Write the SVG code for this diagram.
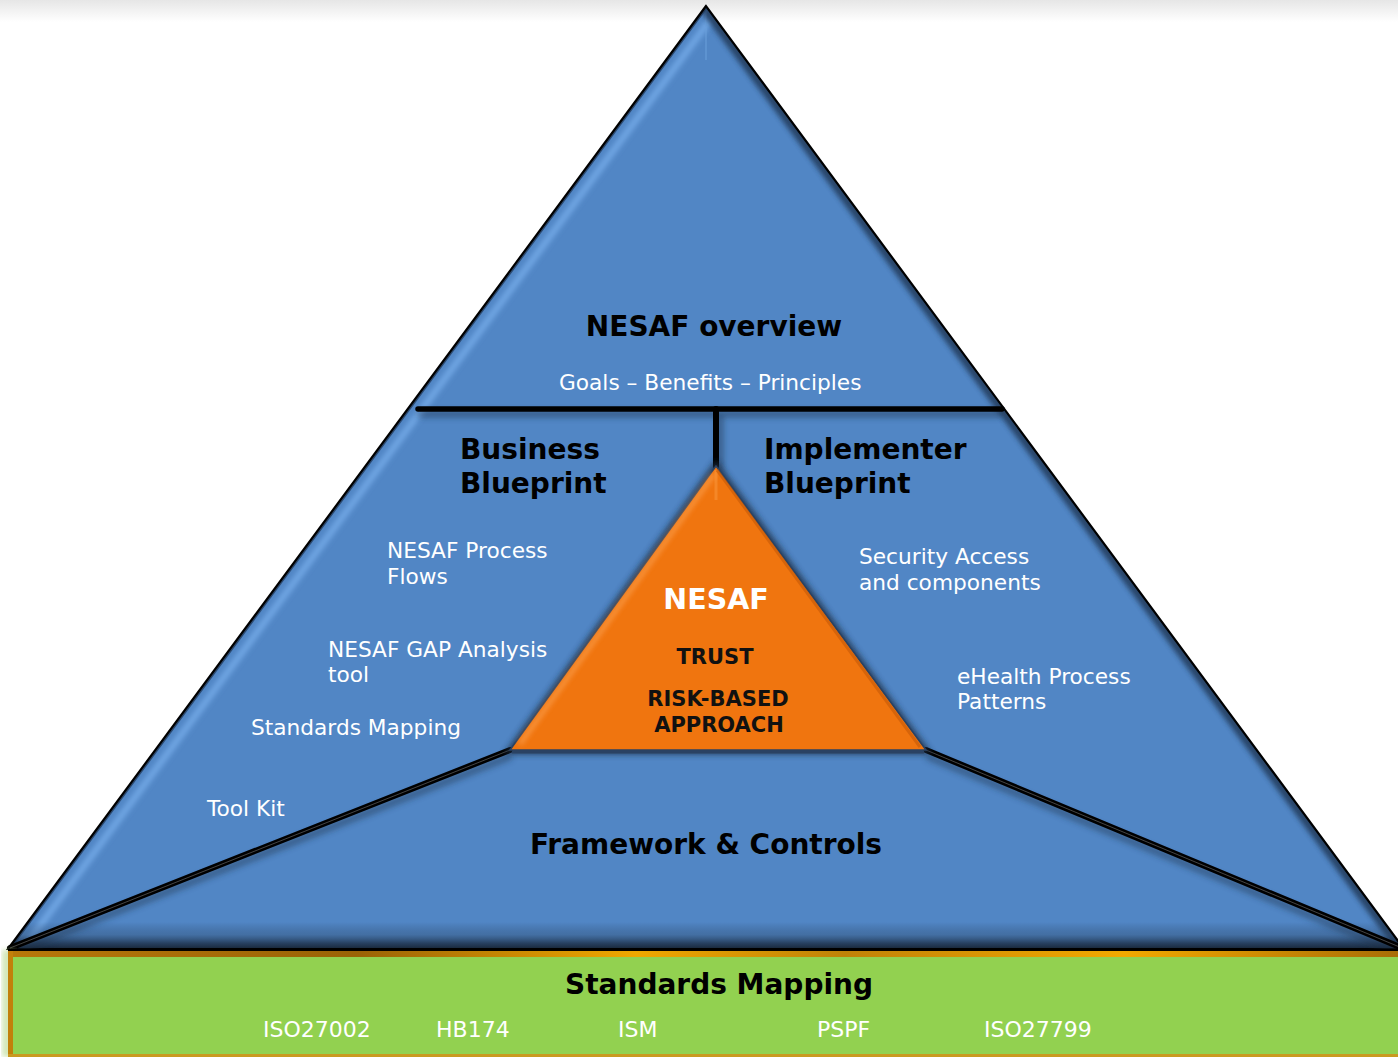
<svg xmlns="http://www.w3.org/2000/svg" width="1398" height="1057" viewBox="0 0 1398 1057">
  <defs>
    <style>
      .t { font-family: "DejaVu Sans", Verdana, sans-serif; }
      .h { font-family: "DejaVu Sans", Verdana, sans-serif; font-weight: bold; font-size: 28px; fill: #000; }
      .w { font-family: "DejaVu Sans", Verdana, sans-serif; font-size: 21.7px; fill: #fff; }
      .o { font-family: "DejaVu Sans", Verdana, sans-serif; font-weight: bold; font-size: 21px; fill: #111; }
      .iso { font-family: "DejaVu Sans", Verdana, sans-serif; font-size: 22px; fill: #fff; }
      .line { stroke: #000; stroke-width: 5.5; fill: none; stroke-linecap: round; }
      .lineIn { stroke: #454545; stroke-width: 1; fill: none; }
    </style>
    <linearGradient id="topfade" x1="0" y1="0" x2="0" y2="1">
      <stop offset="0" stop-color="#e6e6e6"/>
      <stop offset="1" stop-color="#ffffff"/>
    </linearGradient>
    <linearGradient id="bottomBand" x1="0" y1="0" x2="0" y2="1">
      <stop offset="0" stop-color="#1b2c44" stop-opacity="0"/>
      <stop offset="0.45" stop-color="#2a4565" stop-opacity="0.35"/>
      <stop offset="0.75" stop-color="#1d3049" stop-opacity="0.8"/>
      <stop offset="1" stop-color="#14202f" stop-opacity="1"/>
    </linearGradient>
    <linearGradient id="orangeEdge" x1="0" y1="0" x2="1" y2="0">
      <stop offset="0" stop-color="#b8780a"/>
      <stop offset="0.25" stop-color="#9a6206"/>
      <stop offset="0.45" stop-color="#f0a800"/>
      <stop offset="0.6" stop-color="#c08208"/>
      <stop offset="0.8" stop-color="#f2a900"/>
      <stop offset="1" stop-color="#a86c06"/>
    </linearGradient>
    <clipPath id="triClip">
      <polygon points="706,6 8,949 1404,949"/>
    </clipPath>
    <filter id="soft" x="-5%" y="-5%" width="110%" height="110%">
      <feGaussianBlur stdDeviation="2.5"/>
    </filter>
    <filter id="shadow" x="-10%" y="-10%" width="120%" height="120%">
      <feGaussianBlur stdDeviation="3"/>
    </filter>
  </defs>

  <!-- page background -->
  <rect x="0" y="0" width="1398" height="1057" fill="#ffffff"/>
  <rect x="0" y="0" width="1398" height="22" fill="url(#topfade)"/>

  <!-- pyramid body -->
  <g id="pyramid">
    <polygon points="706,6 8,949 1404,949" fill="#5186c5"/>
    <g clip-path="url(#triClip)">
      <line x1="710" y1="20" x2="22" y2="950" stroke="#6ea4e2" stroke-width="7" filter="url(#soft)"/>
      <line x1="706" y1="10" x2="706" y2="60" stroke="#6a9fdc" stroke-width="2" opacity="0.5"/>
      <line x1="706" y1="6" x2="1404" y2="949" stroke="#223a5a" stroke-width="14" filter="url(#soft)" opacity="0.85"/>
      <line x1="706" y1="6" x2="8" y2="949" stroke="#223a5a" stroke-width="5" opacity="0.8"/>
      <rect x="0" y="922" width="1404" height="28" fill="url(#bottomBand)"/>
    </g>
    <polygon points="706,6 8,949 1404,949" fill="none" stroke="#000" stroke-width="2.2" stroke-linejoin="miter"/>
  </g>

  <!-- connectors (divider lines) -->
  <g id="connectors">
    <g filter="url(#shadow)" opacity="0.55">
      <line x1="418" y1="414" x2="1002" y2="414" stroke="#1d3149" stroke-width="6"/>
      <line x1="720" y1="411" x2="720" y2="470" stroke="#1d3149" stroke-width="6"/>
      <line x1="511" y1="756" x2="12" y2="953" stroke="#1d3149" stroke-width="6"/>
      <line x1="927" y1="756" x2="1400" y2="953" stroke="#1d3149" stroke-width="6"/>
    </g>
    <line class="line" x1="418" y1="409" x2="1002" y2="409"/>
    <line class="line" x1="716" y1="409" x2="716" y2="466" style="stroke-width:6"/>
    <line class="line" x1="510" y1="750" x2="10" y2="948" style="stroke-width:6"/>
    <line class="line" x1="926" y1="750" x2="1402" y2="948" style="stroke-width:6"/>
    <line class="lineIn" x1="510" y1="750" x2="10" y2="948"/>
    <line class="lineIn" x1="926" y1="750" x2="1402" y2="948"/>
  </g>

  <!-- central orange triangle -->
  <g id="nesaf-core">
    <polygon points="716,460 504,754 932,754" fill="#1a2d45" opacity="0.85" filter="url(#shadow)"/>
    <polygon points="716,466 510,750 926,750" fill="#f0750f" stroke="#2a4263" stroke-width="1.5"/>
    <line x1="714" y1="474" x2="520" y2="744" stroke="#fba050" stroke-width="4" opacity="0.8" filter="url(#soft)"/>
    <line x1="716" y1="470" x2="716" y2="500" stroke="#fb9a40" stroke-width="3" opacity="0.5"/>
    <line x1="717" y1="470" x2="920" y2="747" stroke="#c65a08" stroke-width="3" opacity="0.6"/>
    <line x1="512" y1="752" x2="924" y2="752" stroke="#2a4263" stroke-width="3"/>
    <text class="t" x="716" y="609" text-anchor="middle" font-size="28.5" font-weight="bold" fill="#ffffff">NESAF</text>
    <text class="o" x="715" y="664" text-anchor="middle">TRUST</text>
    <text class="o" x="718" y="706" text-anchor="middle">RISK-BASED</text>
    <text class="o" x="719" y="732" text-anchor="middle">APPROACH</text>
  </g>

  <!-- top section -->
  <g id="overview">
    <text class="h" x="714" y="336" text-anchor="middle">NESAF overview</text>
    <text class="w" x="559" y="390">Goals – Benefits – Principles</text>
  </g>

  <!-- left section -->
  <g id="business-blueprint">
    <text class="h" x="460" y="459">Business</text>
    <text class="h" x="460" y="493">Blueprint</text>
    <text class="w" x="387" y="558">NESAF Process</text>
    <text class="w" x="387" y="584">Flows</text>
    <text class="w" x="328" y="657">NESAF GAP Analysis</text>
    <text class="w" x="328" y="682">tool</text>
    <text class="w" x="251" y="735">Standards Mapping</text>
    <text class="w" x="207" y="816">Tool Kit</text>
  </g>

  <!-- right section -->
  <g id="implementer-blueprint">
    <text class="h" x="764" y="459">Implementer</text>
    <text class="h" x="764" y="493">Blueprint</text>
    <text class="w" x="859" y="564">Security Access</text>
    <text class="w" x="859" y="590">and components</text>
    <text class="w" x="957" y="684">eHealth Process</text>
    <text class="w" x="957" y="709">Patterns</text>
  </g>

  <!-- bottom section -->
  <g id="framework-controls">
    <text class="h" x="706" y="854" text-anchor="middle">Framework &amp; Controls</text>
  </g>

  <!-- standards bar -->
  <g id="standards-mapping">
    <rect x="2" y="950" width="14" height="107" fill="#b7d98a" opacity="0.6" filter="url(#soft)"/>
    <rect x="8" y="951" width="1395" height="110" fill="#92d150"/>
    <rect x="8" y="951" width="1395" height="6" fill="url(#orangeEdge)"/>
    <rect x="8" y="951" width="5" height="110" fill="#c2800a"/>
    <rect x="8" y="1054" width="1395" height="3" fill="#c99a20"/>
    <line x1="8" y1="950" x2="1404" y2="950" stroke="#000" stroke-width="2"/>
    <text class="h" x="719" y="994" text-anchor="middle">Standards Mapping</text>
    <text class="iso" x="263" y="1037">ISO27002</text>
    <text class="iso" x="436" y="1037">HB174</text>
    <text class="iso" x="618" y="1037">ISM</text>
    <text class="iso" x="817" y="1037">PSPF</text>
    <text class="iso" x="984" y="1037">ISO27799</text>
  </g>
</svg>
